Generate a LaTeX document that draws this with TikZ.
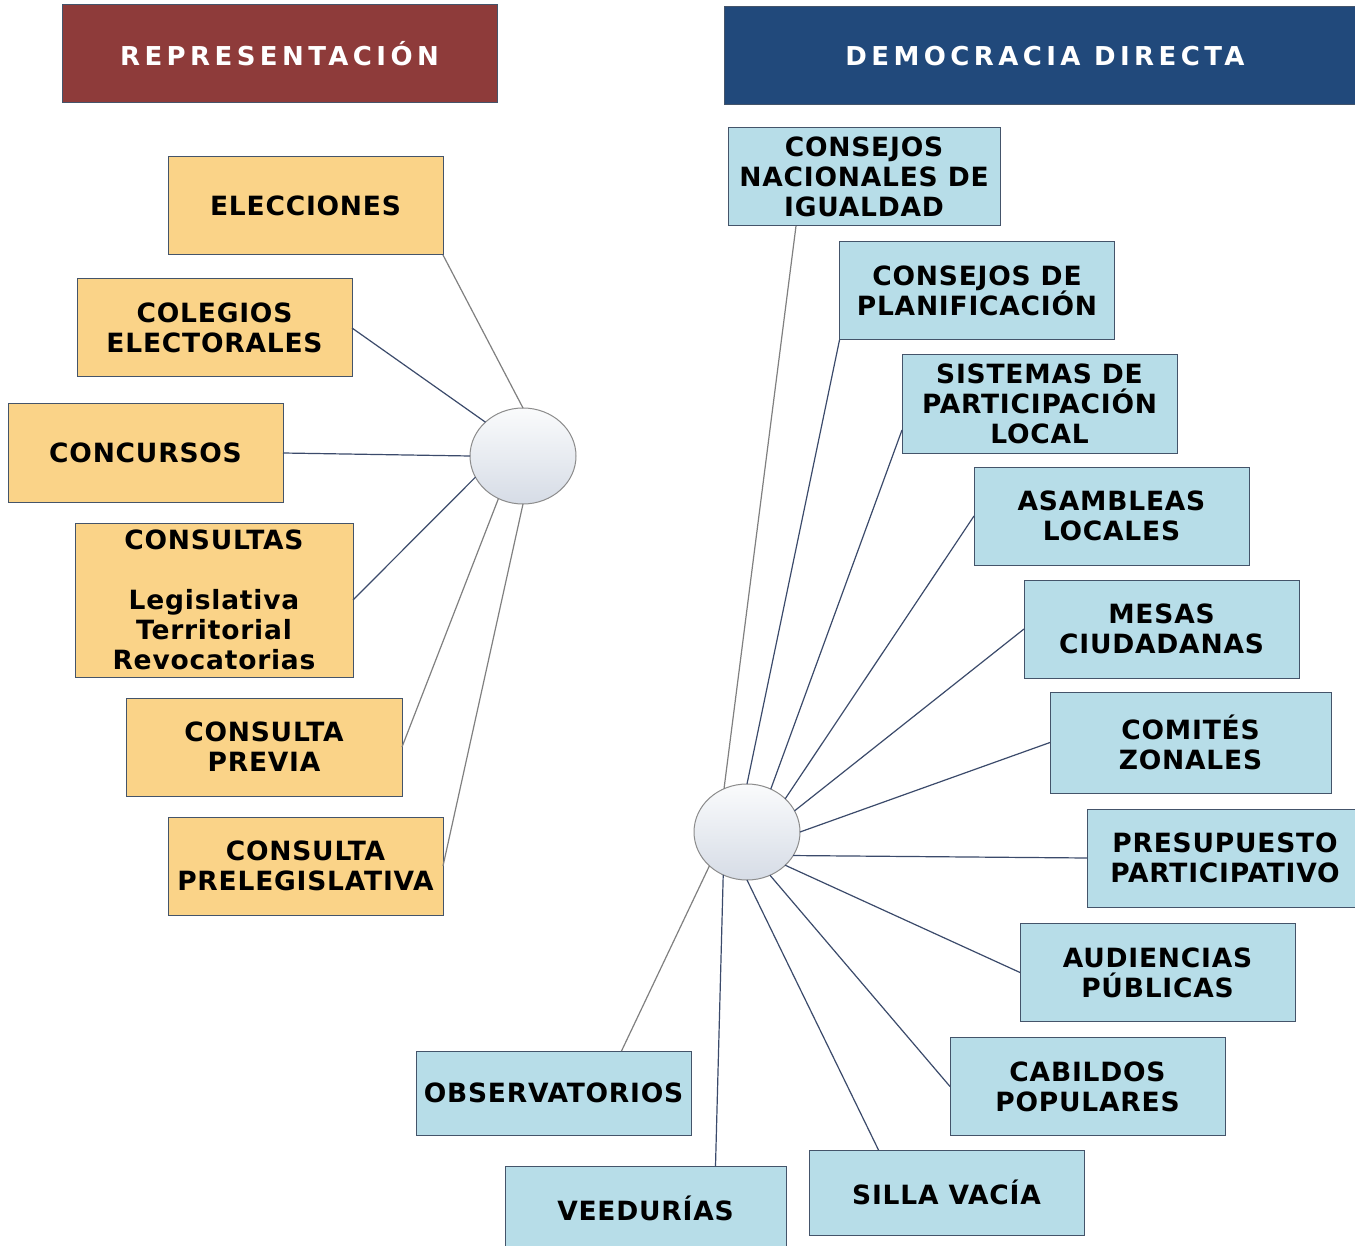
\documentclass[tikz,border=0pt]{standalone}
\usepackage{fontspec}
\setmainfont{DejaVu Sans}
\newfontfamily\boxfont[LetterSpace=3.0]{DejaVu Sans}
\newfontfamily\hdrfont[LetterSpace=17.0]{DejaVu Sans}
\usetikzlibrary{shapes.geometric,calc}
\definecolor{bordc}{RGB}{68,84,106}
\definecolor{orangef}{RGB}{250,211,136}
\definecolor{bluef}{RGB}{183,221,232}
\definecolor{redh}{RGB}{142,59,58}
\definecolor{blueh}{RGB}{33,73,123}
\definecolor{hubb}{RGB}{140,140,140}
\definecolor{hubt}{RGB}{250,251,252}
\definecolor{hubbot}{RGB}{214,220,230}
\definecolor{grayl}{RGB}{128,128,128}
\definecolor{darkl}{RGB}{59,74,107}
\tikzset{
 ob/.style={draw=bordc, line width=1pt, fill=orangef, minimum width=275pt, minimum height=98pt,
   inner sep=0pt, outer sep=0pt, align=center, font=\boxfont\bfseries\fontsize{26.5}{30}\selectfont},
 bb/.style={ob, fill=bluef},
 hdr/.style={draw=bordc, line width=1pt, minimum height=98pt, inner sep=0pt, outer sep=0pt,
   text=white, font=\hdrfont\bfseries\fontsize{26}{30}\selectfont},
 hub/.style={ellipse, draw=hubb, line width=1pt, minimum width=106pt, minimum height=96pt,
   inner sep=0pt, outer sep=0pt, top color=hubt, bottom color=hubbot},
 gl/.style={draw=grayl, line width=1.2pt},
 dl/.style={draw=darkl, line width=1.2pt}
}
\begin{document}
\begin{tikzpicture}[x=1pt,y=-1pt]
\clip (0,0) rectangle (1355,1246);
\fill[white] (0,0) rectangle (1355,1246);
% headers
\node[hdr, fill=redh, minimum width=435pt] (hdrL) at (279.5,54) {REPRESENTACIÓN};
\node[hdr, fill=blueh, minimum width=642pt] (hdrR) at (1045,56) {DEMOCRACIA DIRECTA};
% hubs
\node[hub] (eL) at (523,456) {};
\node[hub] (eR) at (747,832) {};
% left boxes
\node[ob] (elec) at (305.5,206) {ELECCIONES};
\node[ob] (coleg) at (214.5,328) {COLEGIOS\\ELECTORALES};
\node[ob] (conc) at (145.5,453) {CONCURSOS};
\node[ob, minimum width=278pt, minimum height=154pt] (cons) at (214,600) {CONSULTAS\\[30pt]Legislativa\\Territorial\\Revocatorias};
\node[ob, minimum width=276pt] (prev) at (264,747) {CONSULTA\\PREVIA};
\node[ob] (prel) at (305.5,866) {CONSULTA\\PRELEGISLATIVA};
% right boxes
\node[bb, minimum width=272pt] (cni) at (864,177) {CONSEJOS\\NACIONALES DE\\IGUALDAD};
\node[bb] (plan) at (977,291) {CONSEJOS DE\\PLANIFICACIÓN};
\node[bb] (sist) at (1039.5,404) {SISTEMAS DE\\PARTICIPACIÓN\\LOCAL};
\node[bb] (asam) at (1111.5,516) {ASAMBLEAS\\LOCALES};
\node[bb] (mesas) at (1161.5,629) {MESAS\\CIUDADANAS};
\node[bb, minimum width=281pt, minimum height=101pt] (comi) at (1190.5,742.5) {COMITÉS\\ZONALES};
\node[bb, minimum width=276pt] (presu) at (1225,858) {PRESUPUESTO\\PARTICIPATIVO};
\node[bb] (audi) at (1157.5,972.5) {AUDIENCIAS\\PÚBLICAS};
\node[bb] (cabi) at (1087.5,1086.5) {CABILDOS\\POPULARES};
\node[bb, minimum height=85pt] (silla) at (946.5,1192.5) {SILLA VACÍA};
\node[bb, minimum height=84pt] (obs) at (553.5,1093) {OBSERVATORIOS};
\node[bb, minimum width=281pt, minimum height=84pt] (veed) at (645.5,1208) {VEEDURÍAS};
% left connectors
\draw[gl] (elec.south east) -- (eL.north);
\draw[dl] (coleg.east) -- (eL.138);
\draw[dl] (conc.east) -- (eL.west);
\draw[dl] (cons.east) -- (eL.204);
\draw[gl] (prev.east) -- (eL.240);
\draw[gl] (prel.east) -- (eL.south);
% right connectors
\draw[gl] ([xshift=-68pt]cni.south) -- (eR.118);
\draw[dl] (plan.south west) -- (eR.north);
\draw[dl] ([yshift=-26pt]sist.west) -- (eR.61);
\draw[dl] (asam.west) -- (eR.41);
\draw[dl] (mesas.west) -- (eR.24);
\draw[dl] (comi.west) -- (eR.east);
\draw[dl] (presu.west) -- (eR.-27);
\draw[dl] (audi.west) -- (eR.-41);
\draw[dl] (cabi.west) -- (eR.-62);
\draw[dl] ([xshift=-68pt]silla.north) -- (eR.south);
\draw[gl] ([xshift=68pt]obs.north) -- (eR.222);
\draw[dl] ([xshift=70pt]veed.north) -- (eR.241);
\end{tikzpicture}
\end{document}
